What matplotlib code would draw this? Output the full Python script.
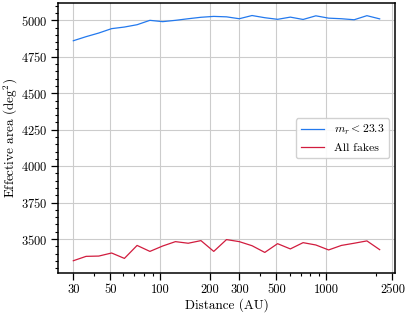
import matplotlib
matplotlib.use("Agg")
import matplotlib.pyplot as plt
from matplotlib.ticker import LogLocator, MultipleLocator, NullFormatter

plt.rcParams['font.family'] = 'serif'
plt.rcParams['font.serif'] = ['cmr10', 'DejaVu Serif']
plt.rcParams['mathtext.fontset'] = 'cm'
plt.rcParams['axes.unicode_minus'] = False
plt.rcParams['axes.formatter.use_mathtext'] = True

# distance bins (AU)
distance = [30, 35.8, 42.7, 51.0, 60.9, 72.6, 86.7, 103.5, 123.5, 147.4,
            175.9, 210.0, 250.6, 299.1, 357.0, 426.0, 508.5, 606.9, 724.3,
            864.4, 1031.7, 1231.3, 1469.5, 1753.9, 2093.2]

area_bright = [4860, 4888, 4913, 4943, 4954, 4970, 5000, 4991, 5000, 5011,
               5021, 5027, 5024, 5011, 5033, 5018, 5007, 5022, 5006, 5031,
               5015, 5011, 5004, 5032, 5010]

area_all = [3351, 3381, 3383, 3404, 3367, 3456, 3415, 3452, 3482, 3471,
            3489, 3415, 3496, 3482, 3454, 3408, 3468, 3432, 3475, 3459,
            3425, 3456, 3471, 3487, 3427]

xticks = [30, 50, 100, 200, 300, 500, 1000, 2500]

fig = plt.figure(figsize=(4.07, 3.14), dpi=100)
ax = fig.add_axes([0.1425, 0.1306, 0.828, 0.859])

ax.plot(distance, area_bright, color='#2379ee', linewidth=0.9, label=r'$m_r < 23.3$')
ax.plot(distance, area_all, color='#d11c3e', linewidth=0.9, label='All fakes')

ax.set_xscale('log')
ax.set_xticks(xticks)
ax.set_xticklabels([str(t) for t in xticks])
ax.xaxis.set_minor_locator(LogLocator(base=10, subs=range(2, 10)))
ax.xaxis.set_minor_formatter(NullFormatter())
ax.yaxis.set_major_locator(MultipleLocator(250))
ax.yaxis.set_minor_locator(MultipleLocator(50))

ax.grid(True, which='major', color='#cccccc', linewidth=0.8)
ax.set_axisbelow(True)

ax.tick_params(which='major', length=5, width=0.9, labelsize=9, direction='out', pad=2.5)
ax.tick_params(which='minor', length=2.5, width=0.8, direction='out')
for s in ax.spines.values():
    s.set_linewidth(1.1)
    s.set_color('black')

ax.set_xlabel('Distance (AU)', fontsize=9.5, labelpad=2)
ax.set_ylabel(r'Effective area (deg$^2$)', fontsize=9.5, labelpad=1)

ax.legend(loc='center right', fontsize=8.5, handlelength=2.0, framealpha=0.9,
          edgecolor='#cccccc', borderaxespad=0.5)

fig.savefig('out.png', dpi=100)
